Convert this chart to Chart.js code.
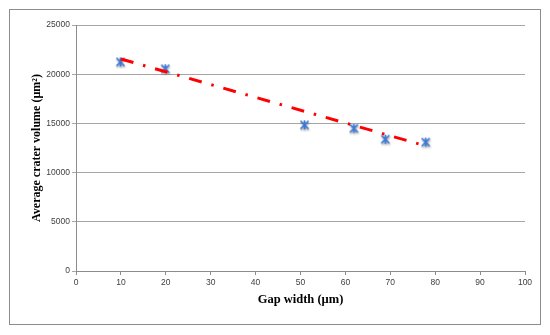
<!DOCTYPE html>
<html>
<head>
<meta charset="utf-8">
<script src="https://cdn.jsdelivr.net/npm/chart.js@4.4.1/dist/chart.umd.min.js"></script>
<style>
  html, body { margin: 0; padding: 0; background: #ffffff; }
  #wrap { width: 550px; height: 335px; position: relative; }
</style>
</head>
<body>
<div id="wrap"><canvas id="c" width="550" height="335"></canvas></div>
<script>
// Measured data (gap width in µm, average crater volume in µm²)
const gapWidth = [10, 20, 51, 62, 69, 78];
const craterVolume = [21200, 20500, 14800, 14450, 13350, 13050];
// Trend line end points
const trendX = [10, 78];
const trendY = [21550, 12700];
// Axis settings
const xTicks = [0, 10, 20, 30, 40, 50, 60, 70, 80, 90, 100];
const yTicks = [0, 5000, 10000, 15000, 20000, 25000];

const measured = gapWidth.map((x, i) => ({ x: x, y: craterVolume[i] }));
const trend = trendX.map((x, i) => ({ x: x, y: trendY[i] }));

// Excel-style asterisk marker (X with vertical bar) with soft grey shadow
function makeMarker() {
  const c = document.createElement('canvas');
  c.width = 14; c.height = 14;
  const g = c.getContext('2d');
  const cx = 6.5, cy = 6.5, r = 4;
  const draw = (color, dx, dy) => {
    g.strokeStyle = color;
    g.lineWidth = 1.7;
    g.lineCap = 'butt';
    g.beginPath();
    g.moveTo(cx - r + dx, cy - r + dy); g.lineTo(cx + r + dx, cy + r + dy);
    g.moveTo(cx + r + dx, cy - r + dy); g.lineTo(cx - r + dx, cy + r + dy);
    g.moveTo(cx + dx, cy - r - 0.5 + dy); g.lineTo(cx + dx, cy + r + 0.5 + dy);
    g.stroke();
  };
  g.save();
  g.shadowColor = 'rgba(0,0,0,0.4)';
  g.shadowBlur = 2;
  g.shadowOffsetX = 0.5;
  g.shadowOffsetY = 1.5;
  draw('#3a78d8', 0, 0);
  g.restore();
  return c;
}
const marker = makeMarker();

const borderPlugin = {
  id: 'outerBorder',
  beforeDraw(chart) {
    const ctx = chart.ctx;
    ctx.save();
    ctx.fillStyle = '#ffffff';
    ctx.fillRect(0, 0, chart.width, chart.height);
    ctx.strokeStyle = '#8c8c8c';
    ctx.lineWidth = 1;
    ctx.strokeRect(9.5, 9.5, 531, 315);
    ctx.restore();
  }
};

const tickFont = { family: 'Liberation Sans, Arial, sans-serif', size: 8.5 };
const titleFontX = { family: 'Liberation Serif, Times New Roman, serif', size: 12.5, weight: 'bold' };
const titleFontY = { family: 'Liberation Serif, Times New Roman, serif', size: 12, weight: 'bold' };

new Chart(document.getElementById('c'), {
  type: 'scatter',
  data: {
    datasets: [
      {
        type: 'line',
        data: trend,
        borderColor: '#ff0000',
        borderWidth: 3,
        borderDash: [13, 10, 2.5, 10],
        pointRadius: 0,
        fill: false,
        tension: 0
      },
      {
        data: measured,
        pointStyle: marker,
        pointRadius: 5,
        borderColor: '#3a78d8',
        backgroundColor: '#3a78d8',
        showLine: false
      }
    ]
  },
  plugins: [borderPlugin],
  options: {
    responsive: false,
    animation: false,
    events: [],
    layout: { padding: { left: 0, right: 25, top: 25, bottom: 0 } },
    plugins: { legend: { display: false }, tooltip: { enabled: false } },
    scales: {
      x: {
        type: 'linear',
        min: 0, max: 100,
        afterBuildTicks: (s) => { s.ticks = xTicks.map(v => ({ value: v })); },
        afterFit: (s) => { s.height = 64; },
        grid: { display: true, drawOnChartArea: false, drawTicks: true, tickLength: 4, color: '#8c8c8c' },
        border: { color: '#8c8c8c', width: 1 },
        ticks: { font: tickFont, color: '#404040', padding: 3, maxRotation: 0, callback: (v) => String(v) },
        title: { display: true, text: 'Gap width (µm)', font: titleFontX, color: '#000000', padding: { top: 0, bottom: 28 } }
      },
      y: {
        type: 'linear',
        min: 0, max: 25000,
        afterBuildTicks: (s) => { s.ticks = yTicks.map(v => ({ value: v })); },
        afterFit: (s) => { s.width = 76; },
        grid: { display: true, drawOnChartArea: true, drawTicks: true, tickLength: 4, color: '#a6a6a6' },
        border: { color: '#8c8c8c', width: 1 },
        ticks: { font: tickFont, color: '#404040', padding: 2, callback: (v) => String(v) },
        title: { display: true, text: 'Average crater volume (µm²)', font: titleFontY, color: '#000000', padding: { top: 30, bottom: 0 } }
      }
    }
  }
});
</script>
</body>
</html>
